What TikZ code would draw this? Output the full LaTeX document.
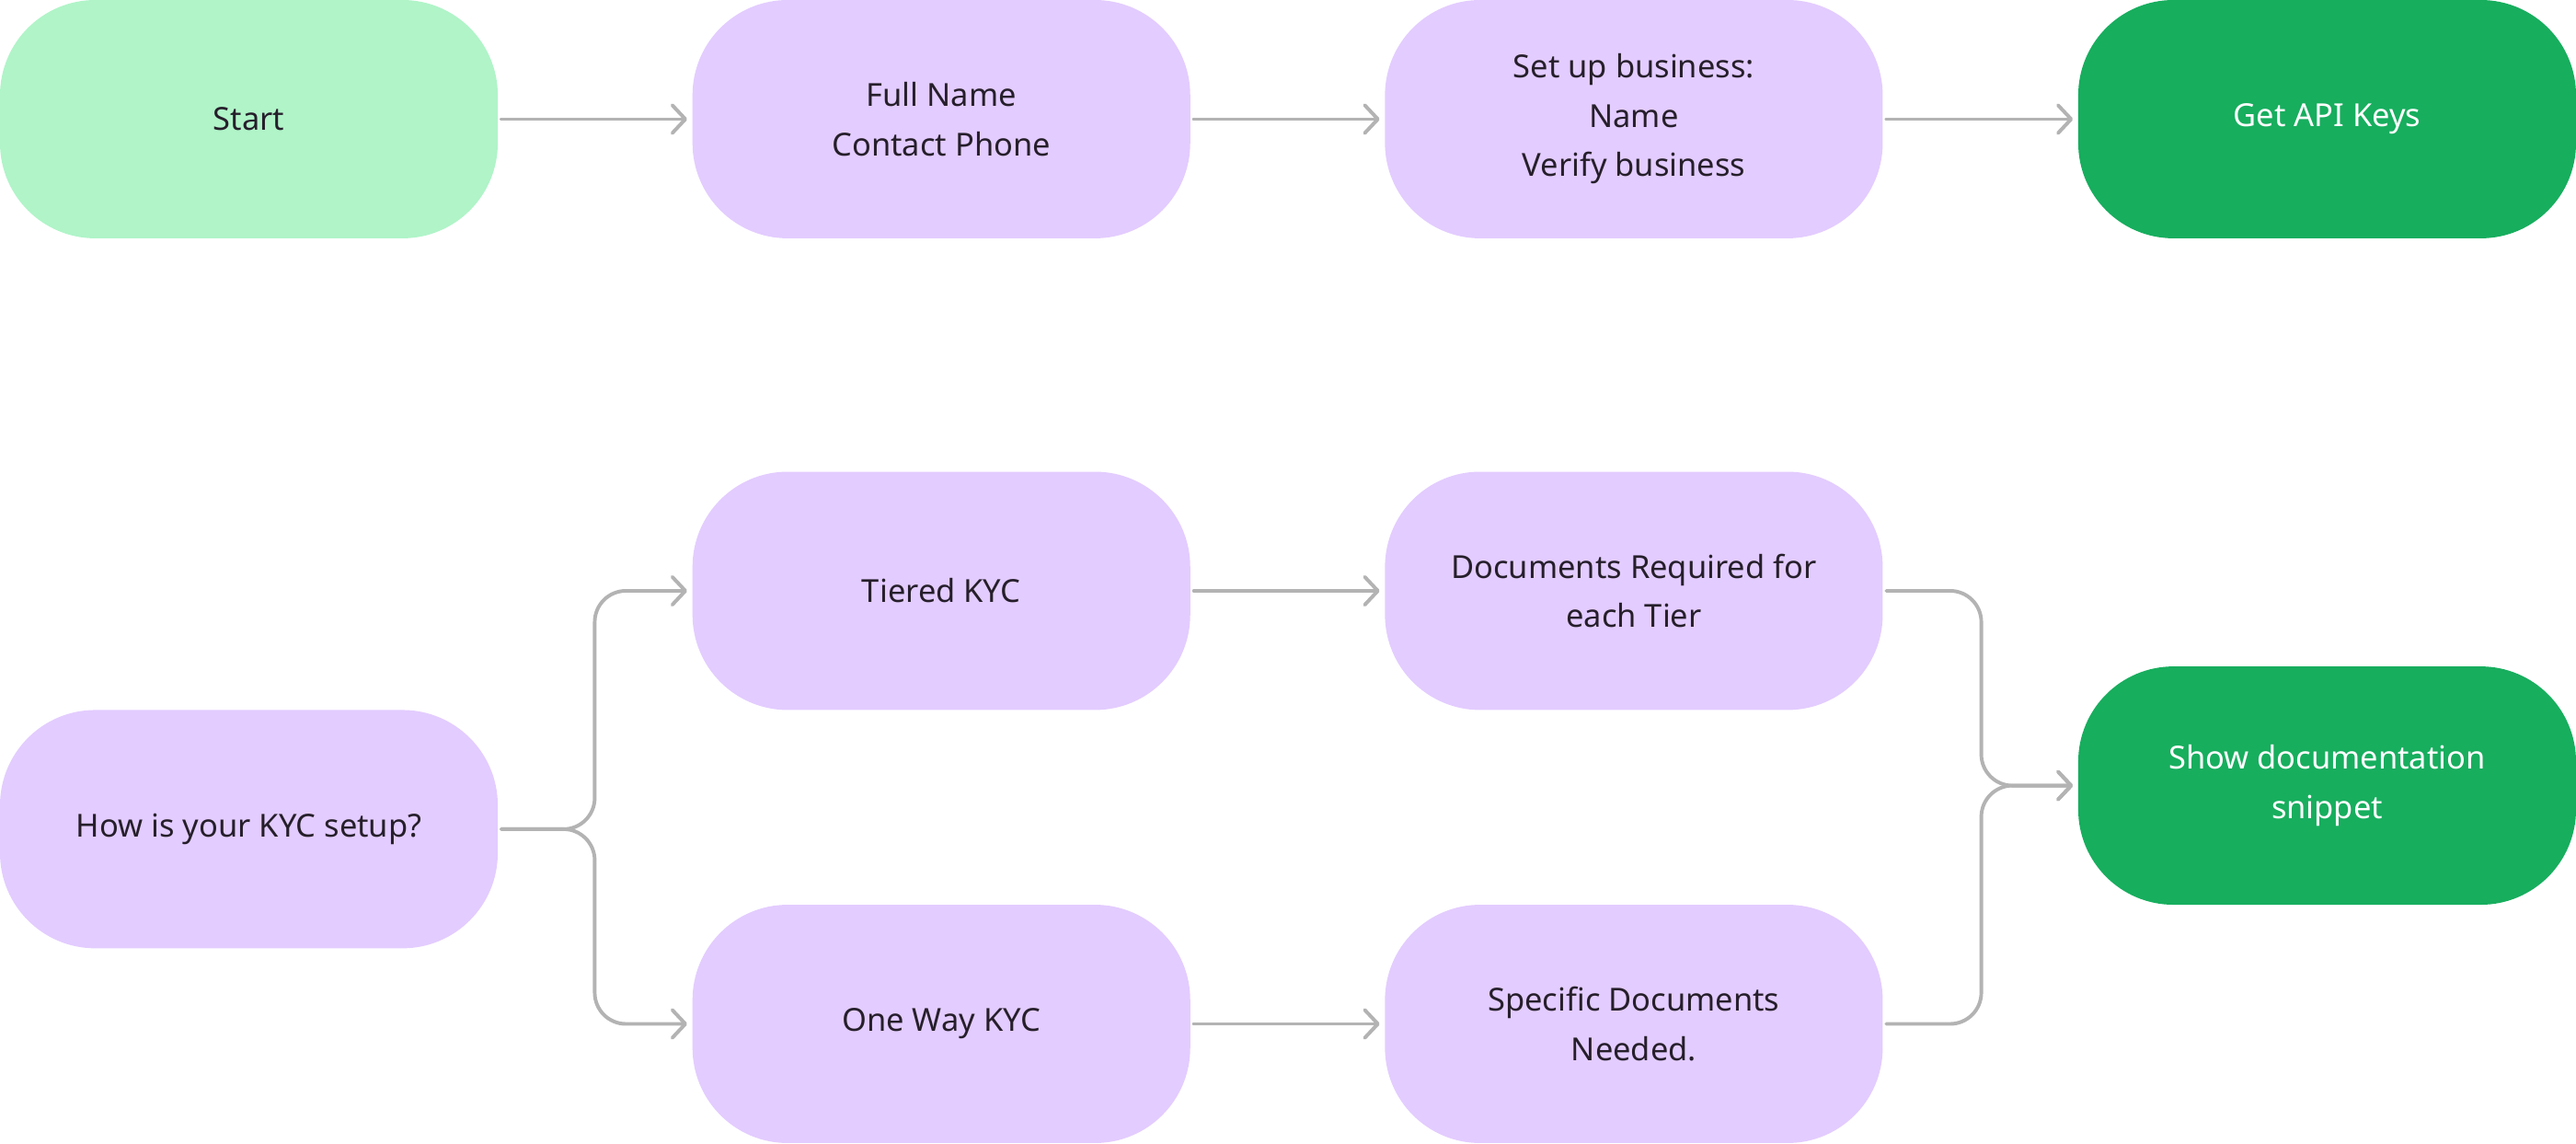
\documentclass[tikz,border=0pt]{standalone}
\usepackage{fontspec}
\setmainfont{Noto Sans}
\usetikzlibrary{arrows.meta}
\definecolor{lgreen}{HTML}{B0F4C8}
\definecolor{lpurple}{HTML}{E3CCFF}
\definecolor{dgreen}{HTML}{17AE5E}
\definecolor{txt}{HTML}{261F2B}
\definecolor{conncol}{HTML}{B3B3B3}
\tikzset{
  box/.style={rectangle, rounded corners=58pt, minimum width=303pt, minimum height=145pt,
    inner sep=0pt, align=center, text=txt, font=\fontsize{19.3}{30}\selectfont},
  startbox/.style={box, fill=lgreen},
  procbox/.style={box, fill=lpurple},
  endbox/.style={box, fill=dgreen, text=white},
  conn/.style={draw=conncol, line width=2.2pt, line cap=round, rounded corners=19pt,
    shorten <=2pt, shorten >=3pt,
    -{Straight Barb[length=8pt,width=17pt,line cap=round,line join=round]}},
}
\begin{document}
\begin{tikzpicture}[x=1pt,y=-1pt]
\useasboundingbox (0,0) rectangle (1568,696);
% row 1
\node[startbox] (start) at (151.5,72.5) {Start};
\node[procbox] (name) at (573,72.5) {Full Name\\Contact Phone};
\node[procbox] (biz) at (994.5,72.5) {Set up business:\\Name\\Verify business};
\node[endbox] (api) at (1416.5,72.5) {Get API Keys};
% row 2
\node[procbox] (how) at (151.5,504.5) {How is your KYC setup?};
\node[procbox] (tier) at (573,359.5) {Tiered KYC};
\node[procbox] (docs) at (994.5,359.5) {Documents Required for\\each Tier};
\node[procbox] (one) at (573,623) {One Way KYC};
\node[procbox] (spec) at (994.5,623) {Specific Documents\\Needed.};
\node[endbox] (show) at (1416.5,478) {Show documentation\\snippet};
\coordinate (split) at (362,504.5);
\coordinate (merge) at (1206,478);
% connectors
\draw[conn] (start.east) -- (name.west);
\draw[conn] (name.east) -- (biz.west);
\draw[conn] (biz.east) -- (api.west);
\draw[conn] (how.east) -- (split) |- (tier.west);
\draw[conn] (how.east) -- (split) |- (one.west);
\draw[conn] (tier.east) -- (docs.west);
\draw[conn] (one.east) -- (spec.west);
\draw[conn] (docs.east) -| (merge) -- (show.west);
\draw[conn] (spec.east) -| (merge) -- (show.west);
\end{tikzpicture}
\end{document}
